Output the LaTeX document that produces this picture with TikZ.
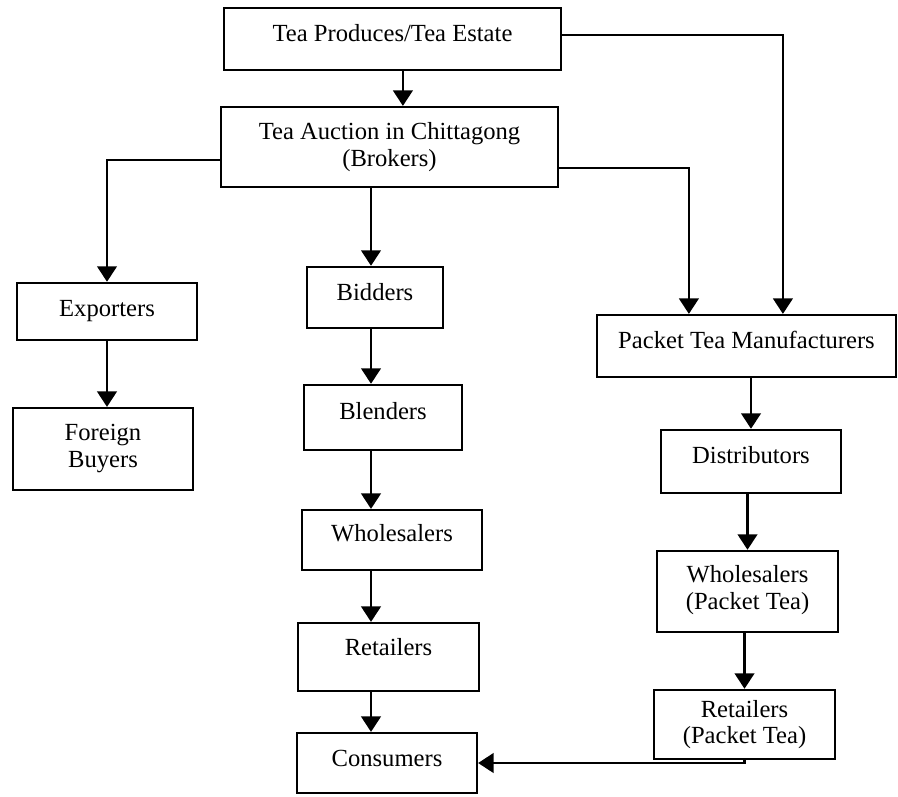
\documentclass[tikz,border=0pt]{standalone}
\usepackage{fontspec}
\setmainfont{Liberation Serif}
\usetikzlibrary{positioning, calc, arrows.meta}

\begin{document}
\begin{tikzpicture}[x=0.025cm, y=-0.025cm, >={Triangle[width=14pt,length=11pt]},
    font=\fontsize{17.5}{19}\selectfont,
    stage/.style={draw, line width=1.6pt, align=center, inner sep=0pt},
    flow/.style={->, line width=1.5pt}]
    \useasboundingbox (0,0) rectangle (898,796);

    % Estate and Auction Boxes
    \node[stage, minimum width=8.43cm, minimum height=1.55cm, text depth=0.3cm] (prod) at (392.5,39) {Tea Produces/Tea Estate};
    \node[stage, minimum width=8.43cm, minimum height=2cm] (auction) at (389.5,147) {Tea Auction in Chittagong\\(Brokers)};

    % Export Branch
    \node[stage, minimum width=4.5cm, minimum height=1.43cm] (exp) at (107,311.5) {Exporters};
    \node[stage, minimum width=4.5cm, minimum height=2.05cm, text depth=0.15cm] (foreign) at (103,449) {Foreign\\Buyers};

    % Loose Tea Branch
    \node[stage, minimum width=3.4cm, minimum height=1.53cm, text depth=0.3cm] (bid) at (375,297.5) {Bidders};
    \node[stage, minimum width=3.95cm, minimum height=1.63cm, text depth=0.35cm] (blend) at (383,417.5) {Blenders};
    \node[stage, minimum width=4.5cm, minimum height=1.5cm, text depth=0.35cm] (whole) at (392,540) {Wholesalers};
    \node[stage, minimum width=4.53cm, minimum height=1.7cm, text depth=0.5cm] (retail) at (388.5,657) {Retailers};
    \node[stage, minimum width=4.5cm, minimum height=1.5cm, text depth=0.25cm] (cons) at (387,763) {Consumers};

    % Packet Tea Branch
    \node[stage, minimum width=7.48cm, minimum height=1.55cm, text depth=0.3cm] (ptm) at (746.5,346) {Packet Tea Manufacturers};
    \node[stage, minimum width=4.5cm, minimum height=1.58cm, text depth=0.35cm] (dist) at (751,461.5) {Distributors};
    \node[stage, minimum width=4.53cm, minimum height=2.03cm, text depth=0.2cm] (wpt) at (747.5,591.5) {Wholesalers\\(Packet Tea)};
    \node[stage, minimum width=4.53cm, minimum height=1.73cm] (rpt) at (744.5,724.5) {Retailers\\(Packet Tea)};

    \coordinate (spine) at (371,0);

    \draw[flow] ([xshift=0.26cm]prod.south) -- ([xshift=0.26cm]prod.south |- auction.north);
    \draw[flow] ([yshift=0.1cm]prod.east) -| ([xshift=0.91cm]ptm.north);
    \draw[flow] ([yshift=-0.52cm]auction.east) -| ([xshift=-1.44cm]ptm.north);
    \draw[flow] ([yshift=-0.33cm]auction.west) -| (exp.north);
    \draw[flow] (exp.south) -- (foreign.north -| exp.south);

    \draw[flow] (auction.south -| spine) -- (bid.north -| spine);
    \draw[flow] (bid.south -| spine) -- (blend.north -| spine);
    \draw[flow] (blend.south -| spine) -- (whole.north -| spine);
    \draw[flow] (whole.south -| spine) -- (retail.north -| spine);
    \draw[flow] (retail.south -| spine) -- (cons.north -| spine);

    \draw[flow] (ptm.south -| dist.north) -- (dist.north);
    \draw[flow] (dist.south -| wpt.north) -- (wpt.north);
    \draw[flow] (wpt.south -| rpt.north) -- (rpt.north);
    \draw[flow] (rpt.south) |- (cons.east);
  \end{tikzpicture}
\end{document}
